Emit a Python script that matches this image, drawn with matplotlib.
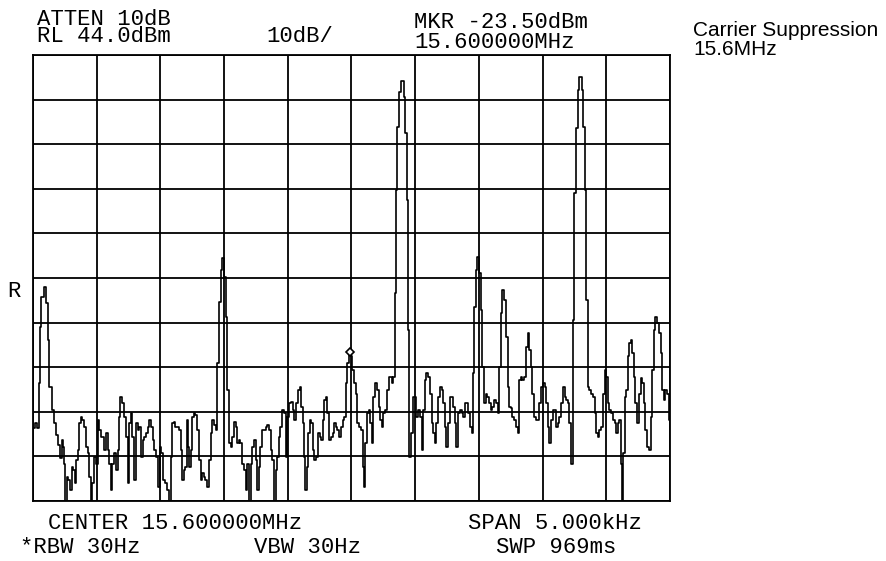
import matplotlib
matplotlib.use("Agg")
import matplotlib.pyplot as plt
import numpy as np

# ---- data (frequency offset from 15.6 MHz centre, Hz ; level, dBm) ----
freq_offset_hz = [
    -2500, -2476, -2458, -2450, -2445, -2424, -2406, -2392, -2380, -2361, -2345, -2327, -2309, -2293,
    -2282, -2270, -2262, -2249, -2241, -2231, -2215, -2204, -2188, -2178, -2168, -2157, -2144, -2131,
    -2118, -2105, -2092, -2078, -2066, -2053, -2039, -2027, -2013, -2000, -1987, -1974, -1961, -1948,
    -1935, -1921, -1909, -1896, -1882, -1870, -1856, -1843, -1830, -1823, -1804, -1791, -1778, -1764,
    -1752, -1739, -1725, -1713, -1699, -1686, -1673, -1660, -1647, -1634, -1621, -1607, -1595, -1582,
    -1568, -1556, -1542, -1529, -1516, -1498, -1487, -1472, -1454, -1440, -1427, -1414, -1401, -1388,
    -1375, -1362, -1348, -1336, -1323, -1309, -1297, -1289, -1278, -1268, -1257, -1244, -1231, -1218,
    -1205, -1191, -1179, -1166, -1152, -1140, -1126, -1113, -1100, -1087, -1074, -1061, -1048, -1034,
    -1022, -1009, -995, -983, -969, -956, -943, -930, -917, -904, -891, -878, -865, -852,
    -838, -826, -812, -799, -786, -773, -760, -747, -734, -721, -708, -695, -681, -669,
    -655, -642, -629, -616, -603, -590, -577, -564, -551, -538, -524, -512, -501, -483,
    -469, -457, -443, -430, -414, -402, -389, -378, -367, -357, -349, -336, -323, -310,
    -297, -284, -271, -257, -245, -232, -218, -206, -195, -182, -169, -155, -143, -130,
    -116, -104, -90, -77, -64, -51, -38, -25, -12, 0, 14, 27, 41, 53,
    67, 80, 93, 104, 114, 127, 140, 153, 166, 179, 192, 206, 218, 232,
    245, 257, 271, 284, 297, 310, 323, 336, 345, 353, 365, 381, 396, 408,
    416, 428, 436, 447, 459, 473, 485, 504, 516, 530, 543, 556, 569, 582,
    595, 608, 622, 634, 648, 661, 673, 687, 700, 713, 726, 739, 752, 765,
    779, 791, 805, 818, 830, 844, 857, 870, 883, 896, 909, 922, 936, 948,
    956, 969, 983, 995, 1009, 1022, 1034, 1048, 1061, 1074, 1087, 1100, 1113, 1126,
    1140, 1152, 1166, 1179, 1191, 1205, 1218, 1231, 1244, 1257, 1270, 1283, 1297, 1309,
    1323, 1336, 1348, 1362, 1375, 1388, 1401, 1414, 1427, 1440, 1454, 1466, 1480, 1498,
    1509, 1521, 1534, 1548, 1560, 1574, 1587, 1600, 1613, 1626, 1639, 1652, 1666, 1678,
    1691, 1705, 1717, 1731, 1744, 1754, 1770, 1778, 1794, 1805, 1817, 1825, 1841, 1848,
    1862, 1874, 1888, 1901, 1914, 1927, 1940, 1953, 1966, 1980, 1992, 2005, 2019, 2031,
    2045, 2058, 2071, 2084, 2097, 2110, 2118, 2126, 2137, 2149, 2162, 2176, 2188, 2196,
    2210, 2223, 2235, 2249, 2262, 2275, 2288, 2301, 2314, 2327, 2341, 2353, 2367, 2380,
    2392, 2406, 2419, 2432, 2445, 2458, 2471, 2484, 2500,
]
level_dbm = [
    -39.7, -38.6, -39.7, -29.6, -16.9, -10.2, -8.0, -11.7, -19.9, -30.4, -35.6, -38.6, -41.2, -43.4,
    -46.4, -42.3, -43.8, -47.6, -56.0, -50.6, -51.3, -53.5, -48.3, -49.1, -52.0, -46.8, -44.6, -38.6,
    -37.1, -37.8, -39.3, -43.8, -45.3, -50.6, -56.0, -52.0, -46.1, -47.6, -37.8, -40.1, -41.6, -41.6,
    -44.6, -40.8, -44.6, -47.6, -53.5, -47.6, -45.3, -49.1, -44.6, -37.1, -32.6, -34.1, -37.1, -41.6,
    -52.0, -38.6, -36.3, -41.6, -51.3, -38.6, -40.1, -39.3, -46.1, -42.3, -41.6, -40.8, -39.3, -37.8,
    -39.3, -42.3, -44.6, -46.1, -52.8, -43.8, -45.3, -51.3, -52.0, -53.5, -56.0, -46.1, -38.6, -38.2,
    -39.3, -39.3, -40.1, -44.6, -51.3, -49.1, -48.3, -37.8, -43.8, -48.3, -44.6, -37.1, -36.3, -36.7,
    -40.1, -46.8, -51.3, -49.8, -50.6, -51.3, -52.8, -46.8, -40.8, -37.8, -39.0, -40.1, -25.1, -11.3,
    -4.2, -1.6, -5.7, -14.7, -31.1, -43.1, -43.8, -41.6, -38.2, -39.3, -43.1, -42.3, -43.1, -47.6,
    -49.1, -53.5, -47.6, -56.0, -47.6, -43.8, -42.3, -46.8, -53.5, -48.3, -43.8, -40.1, -40.1, -39.3,
    -39.0, -40.1, -44.6, -46.8, -56.0, -49.1, -46.1, -41.6, -39.3, -35.6, -36.3, -46.1, -37.1, -34.1,
    -33.7, -35.6, -37.8, -34.1, -31.1, -30.4, -34.9, -38.6, -46.1, -53.5, -48.3, -40.8, -37.8, -38.6,
    -44.6, -46.8, -46.1, -40.8, -41.6, -42.3, -37.8, -33.4, -32.6, -36.3, -42.3, -41.6, -40.8, -38.6,
    -39.3, -40.1, -41.6, -39.3, -37.8, -37.1, -29.6, -25.1, -22.5, -23.5, -26.6, -29.6, -31.9, -38.6,
    -39.3, -40.1, -48.3, -52.8, -43.1, -36.3, -35.6, -38.6, -43.1, -32.6, -29.6, -31.1, -34.9, -37.8,
    -39.3, -36.3, -35.6, -31.1, -28.1, -28.1, -29.6, -28.1, -9.4, 13.7, 27.9, 35.7, 38.2, 38.2,
    34.6, 26.5, 11.5, -17.7, -46.1, -40.8, -32.6, -32.6, -37.1, -35.6, -37.1, -44.6, -35.6, -28.9,
    -27.4, -28.1, -31.9, -38.6, -40.8, -43.1, -38.6, -32.6, -30.4, -31.1, -34.1, -39.3, -43.8, -38.6,
    -32.6, -32.6, -34.9, -38.6, -43.8, -36.3, -35.6, -36.3, -37.1, -34.1, -34.1, -36.3, -39.3, -40.8,
    -27.4, -12.4, -4.2, -1.2, -4.9, -13.2, -25.9, -34.1, -31.9, -32.6, -34.1, -35.6, -34.9, -33.4,
    -34.1, -36.3, -25.9, -13.9, -8.7, -10.9, -19.2, -30.4, -34.9, -35.2, -37.1, -37.8, -39.3, -40.8,
    -28.9, -28.1, -28.9, -28.1, -21.4, -18.4, -22.1, -25.9, -31.9, -37.1, -37.8, -37.8, -34.1, -30.4,
    -29.6, -30.4, -34.1, -39.3, -43.1, -37.8, -35.6, -35.6, -39.3, -38.6, -37.1, -34.1, -30.4, -32.6,
    -33.4, -34.1, -38.6, -47.6, -15.4, 13.1, 27.6, 36.2, 39.1, 39.1, 36.2, 27.9, 13.7, -10.9,
    -30.4, -31.1, -31.9, -32.6, -36.3, -40.8, -41.6, -40.1, -39.3, -31.9, -26.6, -28.1, -34.1, -35.6,
    -36.3, -37.8, -38.6, -40.8, -38.6, -37.8, -47.6, -56.0, -45.3, -32.6, -31.1, -23.6, -20.6, -19.9,
    -22.9, -28.1, -34.1, -38.6, -31.9, -28.5, -29.6, -34.1, -40.1, -43.8, -44.6, -37.1, -26.6, -17.7,
    -14.7, -16.2, -18.4, -22.9, -31.1, -33.4, -31.1, -31.9, -37.8,
]
marker_freq_hz = 0
marker_level_dbm = -23.5

ref_level = 44.0
db_per_div = 10
span_hz = 5000

header_left = ["ATTEN 10dB", "RL 44.0dBm"]
header_scale = "10dB/"
header_marker = ["MKR -23.50dBm", "15.600000MHz"]
footer_row1 = ["CENTER 15.600000MHz", "SPAN 5.000kHz"]
footer_row2 = ["*RBW 30Hz", "VBW 30Hz", "SWP 969ms"]
side_title = ["Carrier Suppression", "15.6MHz"]

# ---- figure ----
W, H = 887, 561
fig = plt.figure(figsize=(W / 100, H / 100), dpi=100)
fig.patch.set_facecolor("white")

def fx(px):
    return px / W

def fy(py):
    return 1 - py / H

ax = fig.add_axes([fx(33), fy(501), fx(670) - fx(33), fy(55) - fy(501)])
ax.set_xlim(-span_hz / 2, span_hz / 2)
ax.set_ylim(ref_level - 10 * db_per_div, ref_level)
ax.set_xticks(np.arange(-span_hz / 2, span_hz / 2 + 1, span_hz / 10))
ax.set_yticks(np.arange(ref_level - 10 * db_per_div, ref_level + 0.1, db_per_div))
ax.tick_params(length=0, labelbottom=False, labelleft=False)
ax.grid(True, color="black", linewidth=1.3)
for s in ax.spines.values():
    s.set_linewidth(1.3)
    s.set_color("black")

ax.plot(freq_offset_hz, level_dbm, drawstyle="steps-mid", color="black", linewidth=1.2)
ax.plot([marker_freq_hz - 12], [marker_level_dbm + 1.0], marker="D", markersize=4.5,
        markerfacecolor="white", markeredgecolor="black", markeredgewidth=1.2)

mono = dict(family="Liberation Mono", fontsize=16, color="black")
fig.text(fx(104), fy(42), "\n".join(header_left), ha="center", va="baseline",
         multialignment="left", linespacing=0.78, **mono)
fig.text(fx(300), fy(42), header_scale, ha="center", va="baseline", **mono)
fig.text(fx(501), fy(48), "\n".join(header_marker), ha="center", va="baseline",
         multialignment="left", linespacing=0.92, **mono)
fig.text(fx(14), fy(297), "R", ha="center", va="baseline", **mono)

fig.text(fx(175), fy(529), footer_row1[0], ha="center", va="baseline", **mono)
fig.text(fx(555), fy(529), footer_row1[1], ha="center", va="baseline", **mono)
fig.text(fx(80), fy(553), footer_row2[0], ha="center", va="baseline", **mono)
fig.text(fx(308), fy(553), footer_row2[1], ha="center", va="baseline", **mono)
fig.text(fx(556), fy(553), footer_row2[2], ha="center", va="baseline", **mono)

sans = dict(family="Liberation Sans", fontsize=15, color="black")
fig.text(fx(693), fy(55), "\n".join(side_title), ha="left", va="baseline",
         multialignment="left", linespacing=1.0, **sans)

fig.savefig("out.png", dpi=100, facecolor="white")
